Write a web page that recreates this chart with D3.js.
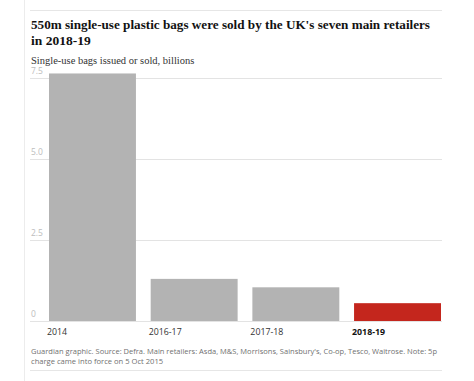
<!DOCTYPE html>
<html><head><meta charset="utf-8">
<script src="https://cdn.jsdelivr.net/npm/d3@7"></script>
<style>
html,body{margin:0;padding:0;background:#fff;}
svg{display:block;}
</style></head>
<body>
<svg id="c" width="474" height="381"></svg>
<script>
const titleLines = ["550m single-use plastic bags were sold by the UK's seven main retailers", "in 2018-19"];
const subtitle = "Single-use bags issued or sold, billions";
const categories = ["2014", "2016-17", "2017-18", "2018-19"];
const values = [7.64, 1.30, 1.04, 0.55];
const highlight = ["2018-19"];
const yTickValues = [0, 2.5, 5.0, 7.5];
const yTickLabels = ["0", "2.5", "5.0", "7.5"];
const footLines = ["Guardian graphic. Source: Defra. Main retailers: Asda, M&S, Morrisons, Sainsbury's, Co-op, Tesco, Waitrose. Note: 5p", "charge came into force on 5 Oct 2015"];

const svg = d3.select("#c");
const serif = "'Liberation Serif', 'DejaVu Serif', serif";
const sans = "'Open Sans', 'Noto Sans', sans-serif";

// frame lines
svg.append("line").attr("x1",24.5).attr("x2",24.5).attr("y1",0).attr("y2",381).attr("stroke","#ececec");
svg.append("line").attr("x1",30).attr("x2",442).attr("y1",10.5).attr("y2",10.5).attr("stroke","#e6e6e6");
svg.append("line").attr("x1",30).attr("x2",442).attr("y1",370.5).attr("y2",370.5).attr("stroke","#e6e6e6");

function fit(sel, w){
  const n = sel.node();
  const l = n.getComputedTextLength();
  if (l > w) sel.attr("textLength", w).attr("lengthAdjust","spacingAndGlyphs");
}

// title
titleLines.forEach((t,i)=>{
  const s = svg.append("text").attr("x",31).attr("y",29 + i*15.5)
    .attr("font-family",serif).attr("font-weight","bold").attr("font-size",13.5)
    .attr("fill","#121212").text(t);
  if(i===0) fit(s, 399);
});
const st = svg.append("text").attr("x",31).attr("y",64).attr("font-family",serif)
  .attr("font-size",10.5).attr("fill","#333").text(subtitle);
fit(st,167);

const y = d3.scaleLinear().domain([0,7.5]).range([321,78]);
const x = d3.scaleBand().domain(categories).range([49,441]).paddingInner(0.145).paddingOuter(0);

// gridlines
const ga = svg.append("g").attr("transform","translate(442,0)");
ga.call(d3.axisRight(y).tickValues(yTickValues).tickSize(-412).tickFormat(""));
ga.select(".domain").remove();
ga.selectAll(".tick line").attr("stroke","#e3e3e3");

// y labels
svg.append("g").selectAll("text").data(yTickValues).join("text")
  .attr("x",31).attr("y",d=>y(d)-4)
  .attr("font-family",sans).attr("font-size",8.5).attr("fill","#bdbdbd")
  .text((d,i)=>yTickLabels[i]);

// bars
svg.append("g").selectAll("rect").data(categories).join("rect")
  .attr("x",d=>x(d)).attr("width",x.bandwidth())
  .attr("y",(d,i)=>y(values[i])).attr("height",(d,i)=>y(0)-y(values[i]))
  .attr("fill",d=>highlight.includes(d)?"#c4261d":"#b3b3b3");

// x labels
svg.append("g").selectAll("text").data(categories).join("text")
  .attr("x",d=>x(d)-2).attr("y",335)
  .attr("font-family",sans).attr("font-size",8.8)
  .attr("font-weight",d=>highlight.includes(d)?"bold":"normal")
  .attr("fill",d=>highlight.includes(d)?"#121212":"#333")
  .text(d=>d);

// footnote
footLines.forEach((t,i)=>{
  const s = svg.append("text").attr("x",31).attr("y",354 + i*10)
    .attr("font-family",sans).attr("font-size",7.6).attr("fill","#707070").text(t);
  if(i===0) fit(s,406);
});
</script>
</body></html>
